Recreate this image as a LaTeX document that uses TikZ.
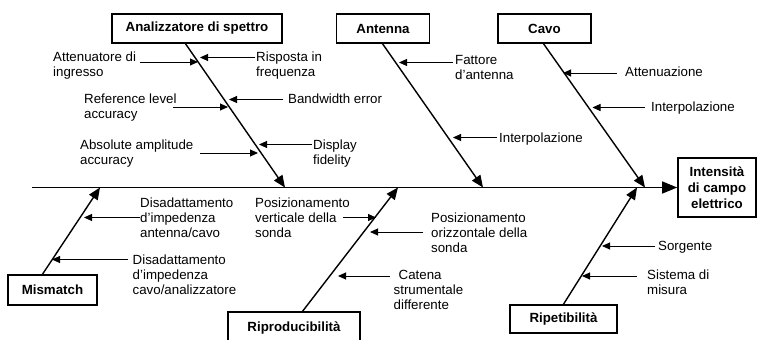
\documentclass[tikz,border=0pt]{standalone}
\usepackage{fontspec}
\setmainfont{Liberation Sans}
\usetikzlibrary{arrows.meta}
\begin{document}
\begin{tikzpicture}[x=1pt,y=-1pt,
  every node/.style={font=\fontsize{13.3}{15}\selectfont},
  lbl/.style={anchor=north west,inner sep=0pt,align=left},
  cause/.style={draw,line width=1.6pt,font=\fontsize{13.3}{16}\selectfont\bfseries,inner sep=0pt,align=center},
  spine/.style={line width=1.3pt,-{Triangle[length=15pt,width=12pt]}},
  bone/.style={line width=1.4pt,-{Triangle[length=12pt,width=10pt]}},
  sub/.style={line width=1pt,-{Triangle[length=8pt,width=7pt]}}]
\clip (0,0) rectangle (758,340);

% cause boxes
\node[cause,minimum width=170pt,minimum height=29pt] (bA) at (197,28.5) {Analizzatore di spettro};
\node[cause,minimum width=93pt,minimum height=29pt] (bAnt) at (383,28.5) {Antenna};
\node[cause,minimum width=93pt,minimum height=29pt] (bCavo) at (544.5,28.5) {Cavo};
\node[cause,minimum width=89pt,minimum height=30pt] (bMis) at (52.5,290) {Mismatch};
\node[cause,minimum width=132pt,minimum height=32pt] (bRipr) at (294,328) {Riproducibilit\`a};
\node[cause,minimum width=107pt,minimum height=28pt] (bRipe) at (563.5,319) {Ripetibilit\`a};
\node[cause,minimum width=78pt,minimum height=59pt] (bOut) at (717,187.5) {Intensit\`a\\di campo\\elettrico};

% spine
\coordinate (s0) at (32,187.5);
\draw[spine] (s0) -- (bOut.west);

% branches
\coordinate (a0) at (185,43);    \coordinate (jA) at (285,187.5);
\coordinate (n0) at (382,43);    \coordinate (jN) at (483,187.5);
\coordinate (c0) at (543,43);    \coordinate (jC) at (645,187.5);
\coordinate (m0) at (42,275);    \coordinate (jM) at (100,187.5);
\coordinate (r0) at (302,312);   \coordinate (jR) at (398,187.5);
\coordinate (p0) at (563,305);   \coordinate (jP) at (637,187.5);
\draw[bone] (a0) -- (jA);
\draw[bone] (n0) -- (jN);
\draw[bone] (c0) -- (jC);
\draw[bone] (m0) -- (jM);
\draw[bone] (r0) -- (jR);
\draw[bone] (p0) -- (jP);

% labels
\node[lbl] (t1) at (53,51.5) {Attenuatore di\\ingresso};
\node[lbl] (t2) at (256,51.5) {Risposta in\\frequenza};
\node[lbl] (t3) at (84,94) {Reference level\\accuracy};
\node[lbl] (t4) at (288,94) {Bandwidth error};
\node[lbl] (t5) at (80,140) {Absolute amplitude\\accuracy};
\node[lbl] (t6) at (313,140) {Display\\fidelity};
\node[lbl] (t7) at (455,55) {Fattore\\d'antenna};
\node[lbl] (t8) at (499,132.5) {Interpolazione};
\node[lbl] (t9) at (625,66.5) {Attenuazione};
\node[lbl] (t10) at (651,101.5) {Interpolazione};
\node[lbl] (t11) at (140,198) {Disadattamento\\d'impedenza\\antenna/cavo};
\node[lbl] (t12) at (132.5,255) {Disadattamento\\d'impedenza\\cavo/analizzatore};
\node[lbl] (t13) at (255,198) {Posizionamento\\verticale della\\sonda};
\node[lbl] (t14) at (431,212.5) {Posizionamento\\orizzontale della\\sonda};
\node[lbl] (t15) at (393.5,270) {\hspace*{5pt}Catena\\strumentale\\differente};
\node[lbl] (t16) at (658,241.5) {Sorgente};
\node[lbl] (t17) at (647,270) {Sistema di\\misura};

% sub-cause arrows
\coordinate (s1) at (140,62);    \coordinate (e1) at (198,62);
\coordinate (s2) at (255,57.5);  \coordinate (e2) at (200,57.5);
\coordinate (s3) at (173,107);   \coordinate (e3) at (228,107);
\coordinate (s4) at (283,99.5);  \coordinate (e4) at (229,99.5);
\coordinate (s5) at (200,153);   \coordinate (e5) at (258,153);
\coordinate (s6) at (312,144.5); \coordinate (e6) at (259,144.5);
\coordinate (s7) at (453,62.5);  \coordinate (e7) at (399,62.5);
\coordinate (s8) at (497,137.5); \coordinate (e8) at (453,137.5);
\coordinate (s9) at (617,73);    \coordinate (e9) at (563,73);
\coordinate (s10) at (645,107.5); \coordinate (e10) at (592.5,107.5);
\coordinate (s11) at (140,217.5); \coordinate (e11) at (84,217.5);
\coordinate (s12) at (128,259.5); \coordinate (e12) at (52,259.5);
\coordinate (s13) at (343,217.5); \coordinate (e13) at (376,217.5);
\coordinate (s14) at (423,232);   \coordinate (e14) at (370,232);
\coordinate (s15) at (390,276);   \coordinate (e15) at (338,276);
\coordinate (s16) at (655,246);   \coordinate (e16) at (602,246);
\coordinate (s17) at (637,276);   \coordinate (e17) at (582,276);
\foreach \i in {1,...,17}{\draw[sub] (s\i) -- (e\i);}
\end{tikzpicture}
\end{document}
